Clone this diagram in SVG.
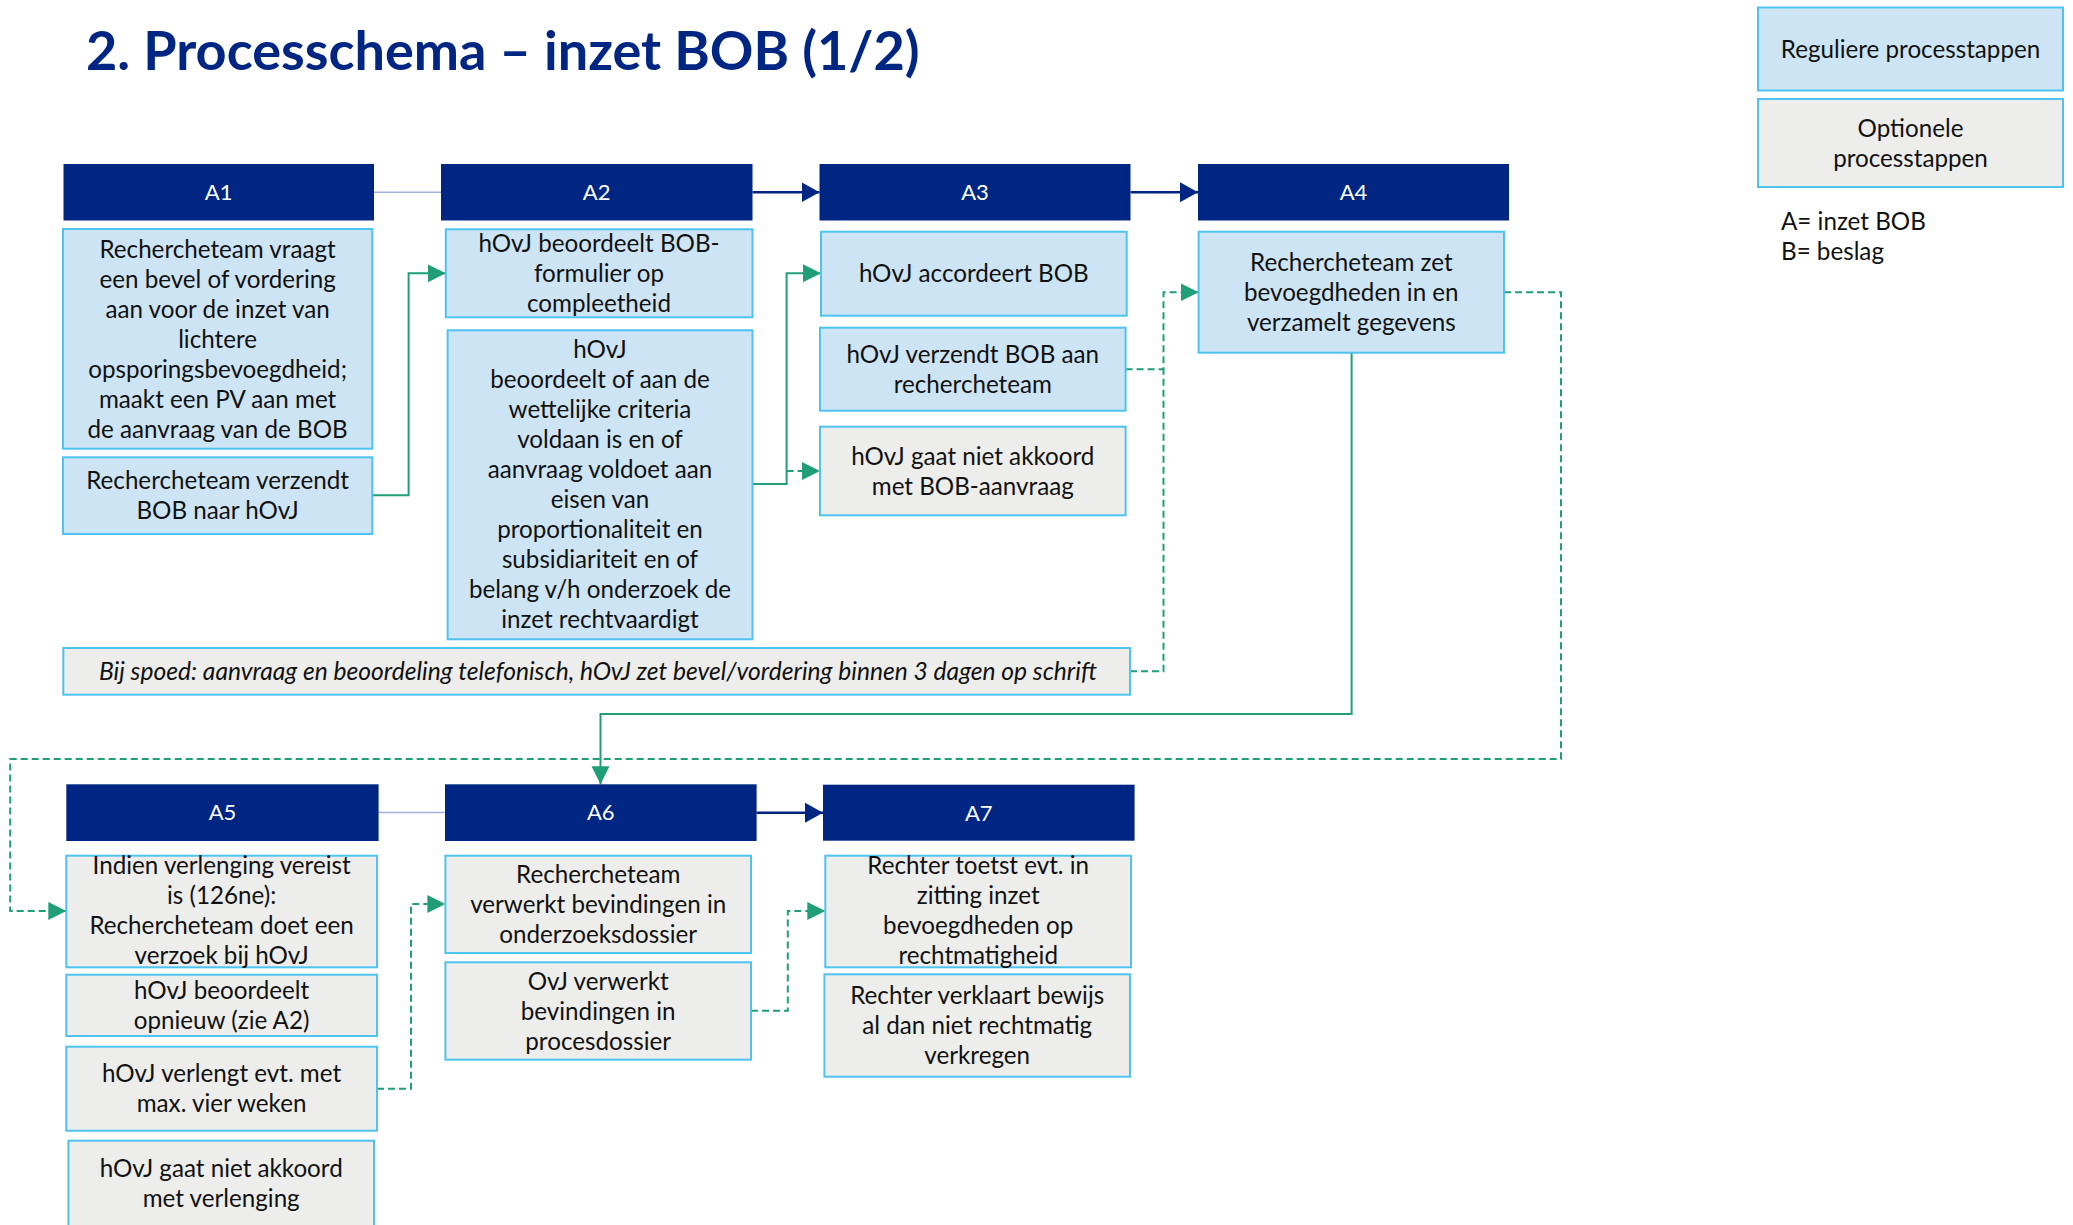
<svg xmlns="http://www.w3.org/2000/svg" width="2073" height="1225" viewBox="0 0 2073 1225">
<style>
.title{font-family:Lato,"Liberation Sans",sans-serif;font-weight:700;font-size:54px;fill:#002683}
.hdr{fill:#002683}
.hl{font-family:Lato,"Liberation Sans",sans-serif;font-size:22px;fill:#ffffff;text-anchor:middle}
.reg{fill:#CDE4F5;stroke:#4FC3EF;stroke-width:2}
.opt{fill:#EDEDEB;stroke:#4FC3EF;stroke-width:2}
.t{font-family:Lato,"Liberation Sans",sans-serif;font-size:24.2px;fill:#111111;text-anchor:middle}
.ti{font-style:italic;font-size:24.6px}
.lg{font-family:Lato,"Liberation Sans",sans-serif;font-size:24.2px;fill:#111111}
.g{fill:none;stroke:#1F9E78;stroke-width:2}
.gd{fill:none;stroke:#1F9E78;stroke-width:2;stroke-dasharray:7 4}
.nv{fill:none;stroke:#002683;stroke-width:2.5}
.lb{fill:none;stroke:#A3B2E0;stroke-width:1.5}
</style>
<defs>
<marker id="ag" markerUnits="userSpaceOnUse" markerWidth="20" markerHeight="20" refX="18" refY="9" orient="auto"><path d="M0,0 L18,9 L0,18 z" fill="#1F9E78"/></marker>
<marker id="an" markerUnits="userSpaceOnUse" markerWidth="20" markerHeight="22" refX="18" refY="10" orient="auto"><path d="M0,0 L18,10 L0,20 z" fill="#002683"/></marker>
</defs>
<rect width="2073" height="1225" fill="#ffffff"/>
<text class="title" x="86" y="70">2. Processchema – inzet BOB (1/2)</text>

<g id="legend">
<rect class="reg" x="1758" y="7.5" width="305" height="83"/>
<text class="t" x="1910.5" y="57.5">Reguliere processtappen</text>
<rect class="opt" x="1758" y="99" width="305" height="88"/>
<text class="t" x="1910.5" y="136.5">Optionele</text>
<text class="t" x="1910.5" y="166.5">processtappen</text>
<text class="lg" x="1781" y="230">A= inzet BOB</text>
<text class="lg" x="1781" y="260">B= beslag</text>
</g>

<g id="connectors">
<path class="lb" d="M374,192.3 H441"/>
<path class="nv" d="M752.5,192.3 H819.5" marker-end="url(#an)"/>
<path class="nv" d="M1130.6,192.3 H1198" marker-end="url(#an)"/>
<path class="lb" d="M378.6,812.5 H445"/>
<path class="nv" d="M756.6,812.7 H823" marker-end="url(#an)"/>
<path class="g" d="M372.3,495.3 H408.6 V273.3 H445.8" marker-end="url(#ag)"/>
<path class="g" d="M752.5,484 H786.6 V273.3 H821" marker-end="url(#ag)"/>
<path class="gd" d="M786.6,471 H820" marker-end="url(#ag)"/>
<path class="gd" d="M1125.6,369.3 H1163.5 V292.3 H1198.6" marker-end="url(#ag)"/>
<path class="gd" d="M1130,671.3 H1163.5 V369.3"/>
<path class="g" d="M1351.6,352.7 V714 H600.5 V784.3" marker-end="url(#ag)"/>
<path class="gd" d="M1504,292.3 H1561 V759 H10.2 V911 H66.3" marker-end="url(#ag)"/>
<path class="gd" d="M377,1088.7 H411 V904 H445.4" marker-end="url(#ag)"/>
<path class="gd" d="M751,1010.7 H787.8 V911 H825.3" marker-end="url(#ag)"/>
</g>

<g id="A1">
<rect class="hdr" x="63.5" y="164" width="310.5" height="56.5"/>
<text class="hl" x="218.7" y="200">A1</text>
<rect class="reg" x="63" y="229" width="309.3" height="219.7"/>
<text class="t" x="217.6" y="257.5">Rechercheteam vraagt</text>
<text class="t" x="217.6" y="287.5">een bevel of vordering</text>
<text class="t" x="217.6" y="317.5">aan voor de inzet van</text>
<text class="t" x="217.6" y="347.5">lichtere</text>
<text class="t" x="217.6" y="377.5">opsporingsbevoegdheid;</text>
<text class="t" x="217.6" y="407.5">maakt een PV aan met</text>
<text class="t" x="217.6" y="437.5">de aanvraag van de BOB</text>
</g>
<g id="A1b">
<rect class="reg" x="63" y="457.3" width="309.3" height="76.7"/>
<text class="t" x="217.6" y="489">Rechercheteam verzendt</text>
<text class="t" x="217.6" y="519">BOB naar hOvJ</text>
</g>

<g id="A2">
<rect class="hdr" x="441" y="164" width="311.5" height="56.5"/>
<text class="hl" x="596.7" y="200">A2</text>
<rect class="reg" x="445.8" y="229.3" width="306.7" height="88"/>
<text class="t" x="599" y="251.8">hOvJ beoordeelt BOB-</text>
<text class="t" x="599" y="281.8">formulier op</text>
<text class="t" x="599" y="311.8">compleetheid</text>
</g>
<g id="A2b">
<rect class="reg" x="447.6" y="330.3" width="304.9" height="309"/>
<text class="t" x="600" y="358.3">hOvJ</text>
<text class="t" x="600" y="388.3">beoordeelt of aan de</text>
<text class="t" x="600" y="418.3">wettelijke criteria</text>
<text class="t" x="600" y="448.3">voldaan is en of</text>
<text class="t" x="600" y="478.3">aanvraag voldoet aan</text>
<text class="t" x="600" y="508.3">eisen van</text>
<text class="t" x="600" y="538.3">proportionaliteit en</text>
<text class="t" x="600" y="568.3">subsidiariteit en of</text>
<text class="t" x="600" y="598.3">belang v/h onderzoek de</text>
<text class="t" x="600" y="628.3">inzet rechtvaardigt</text>
</g>

<g id="A3">
<rect class="hdr" x="819.5" y="164" width="311" height="56.5"/>
<text class="hl" x="975" y="200">A3</text>
<rect class="reg" x="821" y="231.7" width="305.7" height="84"/>
<text class="t" x="973.8" y="282.2">hOvJ accordeert BOB</text>
</g>
<g id="A3b">
<rect class="reg" x="820" y="327.7" width="305.6" height="83"/>
<text class="t" x="972.8" y="362.7">hOvJ verzendt BOB aan</text>
<text class="t" x="972.8" y="392.7">rechercheteam</text>
</g>
<g id="A3c">
<rect class="opt" x="820" y="426.7" width="305.6" height="88.6"/>
<text class="t" x="972.8" y="464.5">hOvJ gaat niet akkoord</text>
<text class="t" x="972.8" y="494.5">met BOB-aanvraag</text>
</g>

<g id="A4">
<rect class="hdr" x="1198" y="164" width="311" height="56.5"/>
<text class="hl" x="1353.5" y="200">A4</text>
<rect class="reg" x="1198.6" y="231.7" width="305.4" height="121"/>
<text class="t" x="1351.3" y="270.7">Rechercheteam zet</text>
<text class="t" x="1351.3" y="300.7">bevoegdheden in en</text>
<text class="t" x="1351.3" y="330.7">verzamelt gegevens</text>
</g>

<g id="spoed">
<rect class="opt" x="63.3" y="648" width="1066.7" height="46.7"/>
<text class="t ti" x="598" y="680">Bij spoed: aanvraag en beoordeling telefonisch, hOvJ zet bevel/vordering binnen 3 dagen op schrift</text>
</g>

<g id="A5">
<rect class="hdr" x="66.3" y="784.3" width="312.3" height="56.7"/>
<text class="hl" x="222.5" y="820.3">A5</text>
<rect class="opt" x="66.3" y="855.7" width="310.7" height="111.6"/>
<text class="t" x="221.6" y="874">Indien verlenging vereist</text>
<text class="t" x="221.6" y="904">is (126ne):</text>
<text class="t" x="221.6" y="934">Rechercheteam doet een</text>
<text class="t" x="221.6" y="964">verzoek bij hOvJ</text>
</g>
<g id="A5b">
<rect class="opt" x="66.3" y="974.7" width="310.7" height="61.3"/>
<text class="t" x="221.6" y="998.8">hOvJ beoordeelt</text>
<text class="t" x="221.6" y="1028.8">opnieuw (zie A2)</text>
</g>
<g id="A5c">
<rect class="opt" x="66.3" y="1046.7" width="310.7" height="84"/>
<text class="t" x="221.6" y="1082.2">hOvJ verlengt evt. met</text>
<text class="t" x="221.6" y="1112.2">max. vier weken</text>
</g>
<g id="A5d">
<rect class="opt" x="68.4" y="1140.7" width="305.6" height="90"/>
<text class="t" x="221.2" y="1177.3">hOvJ gaat niet akkoord</text>
<text class="t" x="221.2" y="1207.3">met verlenging</text>
</g>

<g id="A6">
<rect class="hdr" x="445" y="784.3" width="311.6" height="56.7"/>
<text class="hl" x="600.8" y="820.3">A6</text>
<rect class="opt" x="445.4" y="855.7" width="305.6" height="97.3"/>
<text class="t" x="598.2" y="882.8">Rechercheteam</text>
<text class="t" x="598.2" y="912.8">verwerkt bevindingen in</text>
<text class="t" x="598.2" y="942.8">onderzoeksdossier</text>
</g>
<g id="A6b">
<rect class="opt" x="445.4" y="962.3" width="305.6" height="97.4"/>
<text class="t" x="598.2" y="989.5">OvJ verwerkt</text>
<text class="t" x="598.2" y="1019.5">bevindingen in</text>
<text class="t" x="598.2" y="1049.5">procesdossier</text>
</g>

<g id="A7">
<rect class="hdr" x="823" y="784.7" width="311.6" height="56"/>
<text class="hl" x="978.8" y="820.5">A7</text>
<rect class="opt" x="825.3" y="855.7" width="305.7" height="111.6"/>
<text class="t" x="978.2" y="874">Rechter toetst evt. in</text>
<text class="t" x="978.2" y="904">zitting inzet</text>
<text class="t" x="978.2" y="934">bevoegdheden op</text>
<text class="t" x="978.2" y="964">rechtmatigheid</text>
</g>
<g id="A7b">
<rect class="opt" x="824.4" y="974.3" width="305.6" height="102.4"/>
<text class="t" x="977.2" y="1004">Rechter verklaart bewijs</text>
<text class="t" x="977.2" y="1034">al dan niet rechtmatig</text>
<text class="t" x="977.2" y="1064">verkregen</text>
</g>
</svg>
